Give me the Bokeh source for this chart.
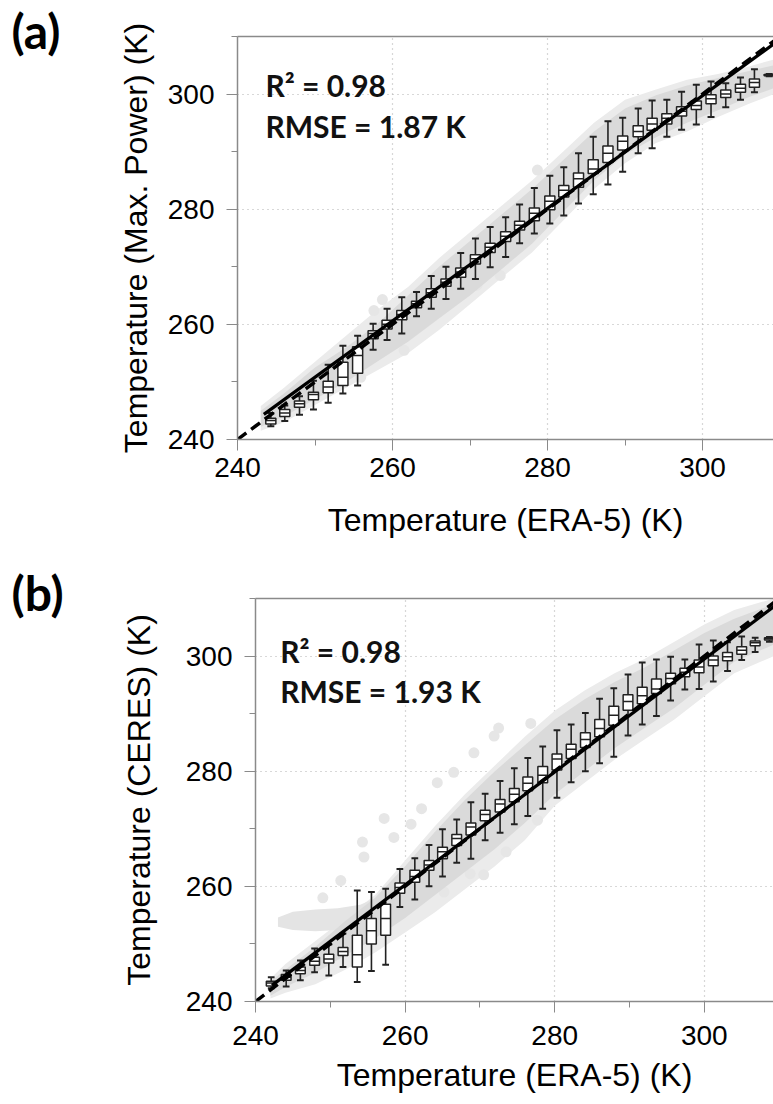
from bokeh.plotting import figure
from bokeh.models import Range1d, SingleIntervalTicker, LinearAxis, Label, FixedTicker
from bokeh.embed import file_html
from bokeh.resources import INLINE

# ---------------- Panel (a): Max. Power vs ERA-5 ----------------
a_centers = [244.3, 246.1, 248.0, 249.8, 251.7, 253.6, 255.5, 257.5, 259.3, 261.2,
             263.1, 265.0, 266.9, 268.8, 270.7, 272.6, 274.6, 276.4, 278.3, 280.3,
             282.1, 284.0, 285.9, 287.8, 289.7, 291.7, 293.5, 295.4, 297.3, 299.2,
             301.1, 303.0, 304.9, 306.7, 308.6]
a_whi = [244.6, 245.9, 247.5, 250.2, 253.0, 256.3, 258.0, 260.1, 262.7, 264.7,
         265.6, 268.4, 270.0, 272.4, 274.9, 276.9, 278.6, 280.8, 283.7, 285.8,
         287.3, 289.7, 292.6, 295.3, 295.9, 297.5, 298.9, 299.0, 300.4, 301.6,
         302.2, 301.9, 302.9, 304.3, 303.5]
a_q3 = [243.7, 245.2, 246.7, 248.2, 250.1, 253.4, 256.1, 258.9, 260.7, 262.4,
        264.0, 266.2, 267.9, 269.8, 272.1, 274.1, 276.1, 277.9, 280.2, 282.3,
        284.1, 286.3, 288.6, 291.0, 292.7, 294.5, 295.8, 296.6, 297.8, 298.8,
        299.9, 300.7, 301.7, 302.6, 303.4]
a_med = [243.3, 244.6, 246.2, 247.8, 249.1, 250.8, 254.6, 258.4, 260.0, 261.7,
         263.6, 265.5, 267.3, 269.1, 271.4, 273.4, 275.3, 277.2, 279.3, 281.4,
         283.3, 285.3, 287.0, 289.7, 291.8, 293.5, 294.8, 295.8, 297.0, 298.0,
         299.2, 300.0, 301.0, 302.0, 303.3]
a_q1 = [242.7, 244.0, 245.6, 246.9, 248.1, 249.4, 251.5, 257.5, 259.2, 260.8,
        262.9, 264.7, 266.6, 268.2, 270.5, 272.5, 274.4, 276.4, 278.0, 279.9,
        282.1, 283.8, 286.2, 288.1, 290.3, 292.6, 293.7, 294.8, 296.2, 297.3,
        298.3, 299.4, 300.3, 301.2, 303.2]
a_wlo = [242.3, 243.2, 244.3, 245.2, 246.4, 248.0, 249.4, 255.6, 257.3, 258.4,
         261.4, 262.7, 264.4, 266.2, 267.9, 269.9, 271.7, 274.1, 275.8, 277.5,
         278.9, 281.0, 282.6, 284.3, 286.5, 289.7, 290.6, 292.6, 293.8, 294.7,
         296.0, 297.7, 299.0, 300.3, 303.1]

# grey point cloud (envelopes)
a_cloud_x = [243, 246, 250, 254, 258, 262, 266, 270, 274, 278, 282, 286, 290, 294, 298, 302, 306, 309.2]
a_cloud_hi = [245.8, 249.0, 253.5, 258.0, 262.5, 266.5, 271.5, 276.0, 280.5, 285.0, 290.0, 295.0, 299.0, 300.8, 302.5, 303.5, 304.8, 306.0]
a_cloud_lo = [241.5, 243.0, 246.0, 249.0, 252.0, 255.0, 259.0, 263.5, 268.0, 272.5, 278.0, 283.5, 288.0, 291.5, 293.5, 296.0, 298.3, 300.0]
a_core_hi = [245.0, 248.0, 252.5, 256.0, 260.0, 265.0, 270.0, 274.5, 279.0, 283.5, 288.5, 293.5, 297.5, 299.8, 301.5, 302.8, 304.0, 305.0]
a_core_lo = [242.2, 244.0, 247.0, 250.0, 253.5, 257.0, 261.0, 265.0, 269.5, 274.0, 279.5, 285.0, 289.5, 292.5, 295.0, 297.2, 299.5, 301.0]
a_pts_x = [258.7, 257.6, 261.5, 255.9, 278.7, 273.9, 270.9]
a_pts_y = [264.3, 262.4, 255.5, 250.8, 286.8, 268.5, 266.8]

a_fit_slope, a_fit_icpt = 0.978, 6.32
a_fit_x = [243.4, 310.0]
a_r2, a_rmse = "0.98", "1.87"

# ---------------- Panel (b): CERES vs ERA-5 ----------------
b_centers = [242.1, 244.1, 246.0, 247.9, 249.8, 251.7, 253.6, 255.5, 257.4, 259.3,
             261.3, 263.2, 265.0, 266.9, 268.8, 270.7, 272.7, 274.6, 276.4, 278.4,
             280.3, 282.2, 284.1, 286.0, 287.9, 289.8, 291.7, 293.6, 295.5, 297.4,
             299.3, 301.2, 303.1, 305.0, 306.8, 308.7]
b_whi = [244.2, 245.4, 247.1, 249.2, 249.9, 251.8, 259.3, 259.0, 259.6, 263.0,
         264.9, 267.2, 269.9, 271.6, 274.6, 276.1, 278.3, 280.5, 282.3, 284.3,
         287.1, 288.1, 290.1, 292.6, 294.4, 296.8, 298.9, 299.4, 299.9, 299.4,
         302.0, 302.7, 302.4, 303.4, 303.2, 303.3]
b_q3 = [243.5, 244.7, 246.0, 247.7, 248.2, 249.4, 251.5, 254.4, 256.9, 260.6,
        262.8, 264.5, 266.8, 269.0, 271.0, 273.2, 275.1, 277.0, 279.0, 280.8,
        283.0, 284.7, 286.7, 289.0, 291.3, 293.3, 294.6, 296.0, 297.0, 297.9,
        299.3, 300.0, 300.6, 301.6, 302.6, 303.2]
b_med = [243.2, 244.2, 245.4, 247.0, 247.4, 248.7, 248.1, 252.3, 254.4, 259.8,
         261.7, 263.7, 266.0, 268.3, 270.3, 272.5, 274.3, 276.0, 277.9, 279.3,
         282.1, 283.8, 285.5, 287.4, 289.7, 292.1, 293.1, 294.3, 296.1, 297.2,
         298.1, 299.3, 299.9, 301.0, 302.3, 303.0]
b_q1 = [242.7, 243.7, 244.8, 246.3, 246.7, 248.0, 246.0, 250.0, 251.5, 258.8,
        260.7, 262.8, 264.8, 267.1, 268.9, 271.4, 272.9, 274.7, 276.6, 278.0,
        280.2, 282.2, 284.1, 286.0, 288.0, 290.6, 291.7, 293.5, 295.2, 296.4,
        297.1, 298.3, 299.2, 300.3, 301.8, 302.8]
b_wlo = [242.3, 242.6, 243.7, 245.1, 244.5, 246.0, 243.4, 245.3, 246.4, 256.4,
         257.7, 260.0, 261.7, 264.1, 264.8, 268.0, 269.3, 270.8, 272.2, 273.5,
         275.4, 278.1, 280.0, 281.4, 282.5, 286.2, 288.1, 289.6, 292.3, 294.2,
         294.3, 295.6, 297.4, 299.3, 300.7, 302.5]

b_cloud_x = [242, 244, 248, 252, 256, 260, 264, 268, 272, 276, 280, 284, 288, 292, 296, 300, 304, 309.3]
b_cloud_hi = [244.0, 246.5, 250.5, 254.5, 258.5, 264.5, 270.5, 276.0, 281.0, 286.0, 290.5, 294.0, 297.0, 299.5, 302.5, 305.5, 308.0, 310.0]
b_cloud_lo = [240.5, 241.5, 243.0, 245.5, 248.5, 252.0, 255.5, 259.5, 263.5, 268.0, 274.0, 278.0, 282.0, 285.5, 289.0, 293.0, 297.0, 300.0]
b_core_hi = [243.5, 245.5, 249.5, 254.0, 258.0, 263.5, 269.5, 275.0, 280.0, 284.5, 289.0, 292.5, 295.5, 298.0, 301.0, 304.0, 306.5, 309.0]
b_core_lo = [241.0, 242.5, 245.0, 248.0, 251.0, 254.5, 258.5, 262.5, 266.5, 271.0, 276.0, 280.0, 284.0, 287.5, 291.0, 295.0, 299.0, 302.0]
b_shelf_x = [243.0, 245.0, 248.0, 251.0, 254.0, 257.0]
b_shelf_hi = [254.6, 255.6, 256.0, 256.2, 256.8, 258.5]
b_shelf_lo = [253.0, 252.4, 252.2, 252.4, 253.0, 254.5]
b_pts_x = [257.2, 254.3, 254.5, 271.9, 264.3, 251.4, 268.7, 265.2, 276.8, 277.7,
           258.5, 260.8, 262.2, 266.5, 269.2, 272.5, 270.5, 273.5, 249.0]
b_pts_y = [271.8, 267.7, 265.1, 286.1, 278.0, 261.0, 262.2, 259.0, 288.3, 271.5,
           268.5, 270.8, 273.5, 279.8, 283.2, 287.5, 262.0, 266.0, 258.0]

b_fit_slope, b_fit_icpt = 0.9806, 5.30
b_fit_x = [242.2, 310.0]
b_r2, b_rmse = "0.98", "1.93"

one_to_one = [240, 310]
major_ticks_step = 20

AXIS_GREY = "#8a8a8a"
TICK_FONT = "Liberation Sans"


def make_panel(height, left, top, bottom, x_end, ylabel, centers, whi, q3, med, q1, wlo,
               cx, chi, clo, kx, khi, klo, px, py, slope, icpt, fit_x, r2, rmse,
               tag, tag_offset, txt_xy, ylabel_standoff, xtick_standoff, xlabel_standoff,
               extra=None):
    p = figure(width=773, height=height, output_backend="svg", toolbar_location=None,
               x_range=Range1d(240, x_end), y_range=Range1d(240, 310),
               min_border_left=left, min_border_right=0, min_border_top=top,
               min_border_bottom=bottom)
    p.outline_line_color = None
    p.background_fill_color = "white"
    p.border_fill_color = "white"

    # panel tag as the plot title, pulled to the left edge
    p.title.text = tag
    p.title.text_font = "Lato"
    p.title.text_font_style = "bold"
    p.title.text_font_size = "48px"
    p.title.text_color = "black"
    p.title.align = "left"
    p.title.vertical_align = "bottom"
    p.title.offset = tag_offset
    p.title.standoff = -44

    for ax in (p.xaxis[0], p.yaxis[0]):
        ax.ticker = SingleIntervalTicker(interval=major_ticks_step, num_minor_ticks=2)
        ax.axis_line_color = AXIS_GREY
        ax.axis_line_width = 1.5
        ax.major_tick_line_color = AXIS_GREY
        ax.minor_tick_line_color = AXIS_GREY
        ax.major_tick_in = 0
        ax.minor_tick_in = 0
        ax.major_tick_out = 11
        ax.minor_tick_out = 6
        ax.major_label_text_font = TICK_FONT
        ax.major_label_text_font_size = "28px"
        ax.major_label_text_color = "black"
        ax.axis_label_text_font = TICK_FONT
        ax.axis_label_text_font_size = "32px"
        ax.axis_label_text_font_style = "normal"
        ax.axis_label_text_color = "black"
    p.xaxis.axis_label = "Temperature (ERA-5) (K)"
    p.yaxis.axis_label = ylabel
    p.xaxis.major_label_standoff = xtick_standoff
    p.yaxis.major_label_standoff = 12
    p.xaxis.axis_label_standoff = xlabel_standoff
    p.yaxis.axis_label_standoff = ylabel_standoff

    top_axis = LinearAxis(ticker=FixedTicker(ticks=[]), axis_line_color=AXIS_GREY,
                          axis_line_width=1.5, major_tick_out=0, minor_tick_out=0,
                          major_tick_in=0, minor_tick_in=0)
    p.add_layout(top_axis, "above")

    for g in p.grid:
        g.grid_line_color = "#b0b0b0"
        g.grid_line_dash = "1 4"
        g.grid_line_width = 1.2

    # point cloud
    p.varea(x=cx, y1=clo, y2=chi, color="#ebebeb")
    if extra is not None:
        ex, ehi, elo = extra
        p.varea(x=ex, y1=elo, y2=ehi, color="#e4e4e4")
    p.scatter(x=px, y=py, size=11, color="#e6e6e6", line_color=None)
    p.varea(x=kx, y1=klo, y2=khi, color="#dadada")

    # box plots
    half = 0.65
    cap = 0.45
    p.segment(x0=centers, y0=q3, x1=centers, y1=whi, line_color="#222222", line_width=1.6)
    p.segment(x0=centers, y0=q1, x1=centers, y1=wlo, line_color="#222222", line_width=1.6)
    p.segment(x0=[c - cap for c in centers], y0=whi, x1=[c + cap for c in centers], y1=whi,
              line_color="#222222", line_width=2)
    p.segment(x0=[c - cap for c in centers], y0=wlo, x1=[c + cap for c in centers], y1=wlo,
              line_color="#222222", line_width=2)
    p.vbar(x=centers, width=2 * half, bottom=q1, top=q3, fill_color="white",
           line_color="#222222", line_width=1.5)
    p.segment(x0=[c - half for c in centers], y0=med, x1=[c + half for c in centers], y1=med,
              line_color="#222222", line_width=1.5)

    # 1:1 line and fit
    p.line(x=one_to_one, y=one_to_one, line_color="black", line_width=3.5, line_dash="11 6")
    p.line(x=fit_x, y=[slope * v + icpt for v in fit_x], line_color="black", line_width=3.2)

    p.add_layout(Label(x=txt_xy[0], y=txt_xy[1], text="R\u00b2 = " + r2, text_font="Lato",
                       text_font_style="bold", text_font_size="30px", text_baseline="alphabetic",
                       text_color="#111111"))
    p.add_layout(Label(x=txt_xy[0], y=txt_xy[2], text="RMSE = " + rmse + " K", text_font="Lato",
                       text_font_style="bold", text_font_size="30px", text_baseline="alphabetic",
                       text_color="#111111"))
    return p


pa = make_panel(550, 237, 36, 111, 309.16, "Temperature (Max. Power) (K)",
                a_centers, a_whi, a_q3, a_med, a_q1, a_wlo,
                a_cloud_x, a_cloud_hi, a_cloud_lo, a_cloud_x, a_core_hi, a_core_lo,
                a_pts_x, a_pts_y, a_fit_slope, a_fit_icpt, a_fit_x, a_r2, a_rmse,
                "(a)", -226, (243.6, 301.5, 294.5), 11, 7, 22)

pb = make_panel(554, 255, 48, 103, 309.25, "Temperature (CERES) (K)",
                b_centers, b_whi, b_q3, b_med, b_q1, b_wlo,
                b_cloud_x, b_cloud_hi, b_cloud_lo, b_cloud_x, b_core_hi, b_core_lo,
                b_pts_x, b_pts_y, b_fit_slope, b_fit_icpt, b_fit_x, b_r2, b_rmse,
                "(b)", -244, (243.3, 300.96, 294.0), 26, 13, 9,
                extra=(b_shelf_x, b_shelf_hi, b_shelf_lo))

open("out.html", "w").write(file_html([pa, pb], INLINE))
